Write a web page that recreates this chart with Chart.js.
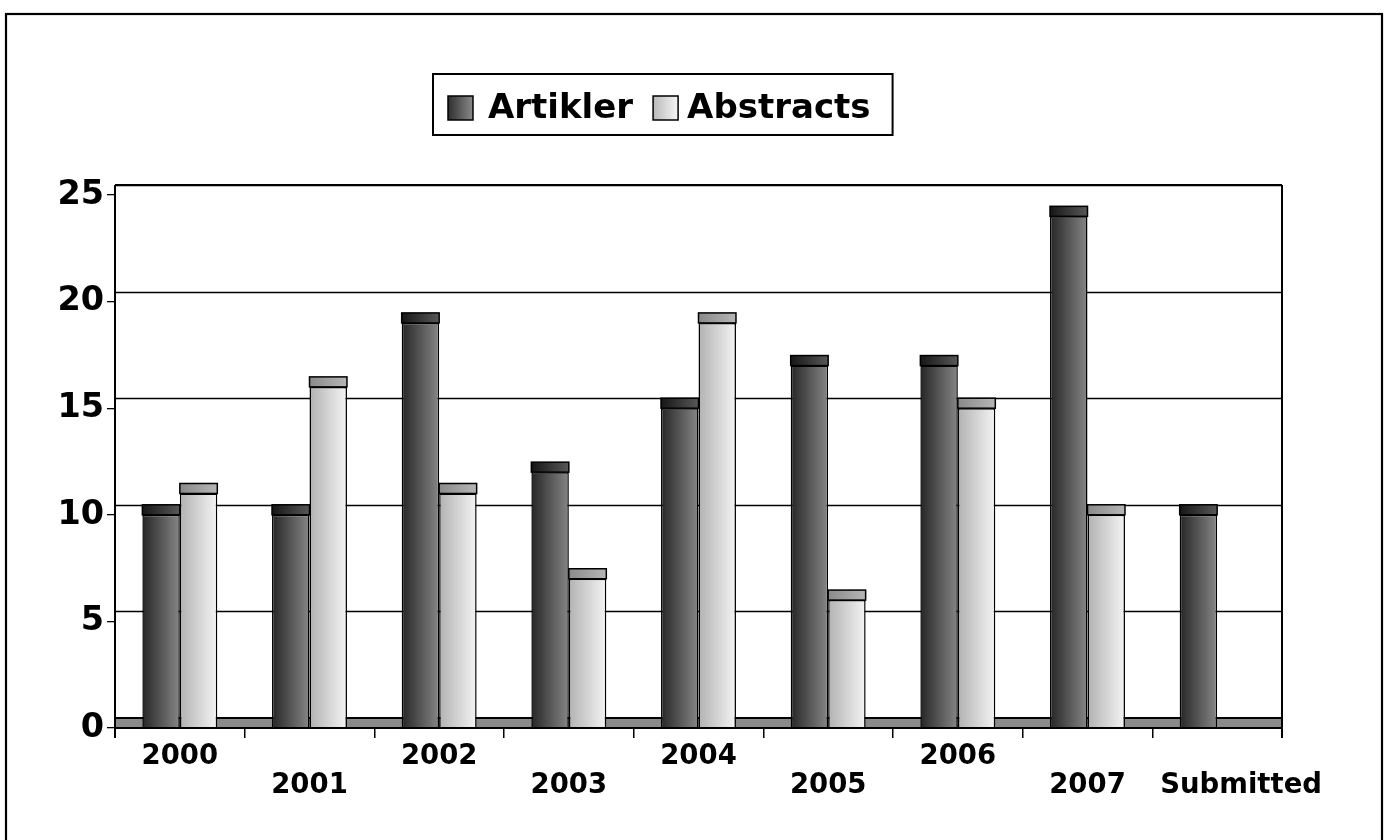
<!DOCTYPE html>
<html>
<head>
<meta charset="utf-8">
<script src="https://cdn.jsdelivr.net/npm/chart.js@4.4.1/dist/chart.umd.min.js"></script>
<style>
  html, body { margin: 0; padding: 0; background: #fff; }
  #wrap { width: 1389px; height: 840px; position: relative; }
</style>
</head>
<body>
<div id="wrap"><canvas id="c"></canvas></div>
<script>
// Publications per year
const categories = ['2000', '2001', '2002', '2003', '2004', '2005', '2006', '2007', 'Submitted'];
const artikler   = [10, 10, 19, 12, 15, 17, 17, 24, 10];
const abstracts  = [11, 16, 11, 7, 19, 6, 15, 10, null];
const seriesNames = ['Artikler', 'Abstracts'];
const yMax = 25;
const yStep = 5;

// Look of the pseudo-3D columns
const DEPTH = 10;            // vertical offset of the back wall / column tops
const CAT_PCT = 0.578;
const FONT = "'DejaVu Sans', Verdana, sans-serif";
const faceStops = [['#262626', '#868686'], ['#b2b2b2', '#f4f4f4']];
const capStops  = [['#161616', '#585858'], ['#8a8a8a', '#b6b6b6']];
const swatchStops = [['#2e2e2e', '#8a8a8a'], ['#b8b8b8', '#f6f6f6']];

function hGrad(c, x0, x1, stops) {
  const g = c.createLinearGradient(x0, 0, x1, 0);
  g.addColorStop(0, stops[0]);
  g.addColorStop(1, stops[1]);
  return g;
}

// Horizontal shading across each column front, from the x scale geometry
function barFace(ctx) {
  const chart = ctx.chart;
  const xs = chart.scales.x;
  const stops = faceStops[ctx.datasetIndex];
  if (!xs || ctx.dataIndex === undefined || !xs.width) return stops[0];
  const group = xs.width / categories.length * CAT_PCT;
  const w = group / chart.data.datasets.length;
  const left = xs.getPixelForValue(ctx.dataIndex) - group / 2 + ctx.datasetIndex * w;
  return hGrad(chart.ctx, left, left + w, stops);
}

const scenePlugin = {
  id: 'scene',
  beforeDraw(chart) {
    const c = chart.ctx;
    c.save();
    c.fillStyle = '#fff';
    c.fillRect(0, 0, chart.width, chart.height);
    c.strokeStyle = '#000';
    c.lineWidth = 2.2;
    c.strokeRect(6, 14, chart.width - 13, chart.height + 40);
    c.restore();
  },
  beforeDatasetsDraw(chart) {
    const c = chart.ctx;
    const ys = chart.scales.y, xs = chart.scales.x;
    const L = xs.left, R = xs.right;
    const base = ys.getPixelForValue(0);
    c.save();
    // back wall gridlines
    c.strokeStyle = '#000';
    c.lineWidth = 1.3;
    for (let v = yStep; v <= yMax; v += yStep) {
      const y = Math.round(ys.getPixelForValue(v) - DEPTH) + 0.5;
      c.beginPath(); c.moveTo(L, y); c.lineTo(R, y); c.stroke();
    }
    // floor
    c.fillStyle = '#8a8a8a';
    c.fillRect(L, base - DEPTH, R - L, DEPTH);
    c.lineWidth = 2;
    c.beginPath(); c.moveTo(L, base - DEPTH); c.lineTo(R, base - DEPTH); c.stroke();
    c.restore();
  },
  afterDatasetsDraw(chart) {
    const c = chart.ctx;
    const ys = chart.scales.y, xs = chart.scales.x;
    const L = xs.left, R = xs.right;
    const base = ys.getPixelForValue(0);
    const top = ys.getPixelForValue(yMax) - DEPTH;
    c.save();
    // column tops
    chart.data.datasets.forEach((ds, di) => {
      const meta = chart.getDatasetMeta(di);
      meta.data.forEach((el, i) => {
        if (ds.data[i] === null || ds.data[i] === undefined) return;
        const { x, y, width } = el.getProps(['x', 'y', 'width'], true);
        const x0 = x - width / 2;
        c.fillStyle = hGrad(c, x0, x0 + width, capStops[di]);
        c.fillRect(x0, y - DEPTH, width, DEPTH);
        c.strokeStyle = '#000';
        c.lineWidth = 1.5;
        c.strokeRect(x0, y - DEPTH, width, DEPTH);
      });
    });
    // axes and wall outline
    c.strokeStyle = '#000';
    c.lineWidth = 2;
    c.beginPath();
    c.moveTo(L, base); c.lineTo(R, base);
    c.moveTo(L, top); c.lineTo(R, top);
    c.moveTo(L, top); c.lineTo(L, base + 10);
    c.moveTo(R, top); c.lineTo(R, base + 10);
    c.stroke();
    c.restore();
  },
  afterDraw(chart) {
    // legend with frame
    const c = chart.ctx;
    c.save();
    c.font = 'bold 34px ' + FONT;
    c.textBaseline = 'alphabetic';
    const boxL = 433, boxT = 74, boxH = 61;
    const sw = 25;
    const gaps = [15, 9];
    let x = 448;
    const items = [];
    seriesNames.forEach((name, i) => {
      const tw = c.measureText(name).width;
      items.push({ name, i, sx: x, tx: x + sw + gaps[i], tw });
      x = x + sw + gaps[i] + tw + 20;
    });
    const boxR = x - 20 + 22;
    c.fillStyle = '#fff';
    c.fillRect(boxL, boxT, boxR - boxL, boxH);
    c.strokeStyle = '#000';
    c.lineWidth = 2;
    c.strokeRect(boxL, boxT, boxR - boxL, boxH);
    items.forEach(it => {
      c.fillStyle = hGrad(c, it.sx, it.sx + sw, swatchStops[it.i]);
      c.fillRect(it.sx, 96, sw, 24);
      c.lineWidth = 1.5;
      c.strokeRect(it.sx, 96, sw, 24);
      c.fillStyle = '#000';
      c.fillText(it.name, it.tx, 118);
    });
    c.restore();
  }
};

Chart.defaults.font.family = FONT;
Chart.defaults.color = '#000';

// Long labels and every second year go on the lower row;
// the long one is nudged right so it clears its neighbour.
const lowerRow = (i) => i % 2 === 1 || categories[i].length > 4;
const tickText = (i) => (categories[i].length > 4 ? '     ' + categories[i] : categories[i]);

new Chart(document.getElementById('c'), {
  type: 'bar',
  data: {
    labels: categories,
    datasets: [
      { label: seriesNames[0], data: artikler, backgroundColor: barFace, borderColor: '#000', borderWidth: 1.5 },
      { label: seriesNames[1], data: abstracts, backgroundColor: barFace, borderColor: '#000', borderWidth: 1.5 }
    ]
  },
  options: {
    responsive: true,
    maintainAspectRatio: false,
    animation: false,
    devicePixelRatio: 1,
    layout: { padding: { top: 195, right: 107, left: 0, bottom: 0 } },
    datasets: { bar: { categoryPercentage: CAT_PCT, barPercentage: 1 } },
    plugins: { legend: { display: false }, tooltip: { enabled: false } },
    scales: {
      x: {
        offset: true,
        border: { display: false },
        grid: { offset: true, drawOnChartArea: false, drawTicks: true, tickLength: 10, color: '#000', lineWidth: 1.5 },
        ticks: {
          autoSkip: false,
          maxRotation: 0,
          padding: 4,
          font: { size: 27.5, weight: 'bold', lineHeight: 29 / 27.5 },
          callback: (v, i) => (lowerRow(i) ? ['', tickText(i)] : tickText(i))
        },
        afterFit: s => { s.height = 112; }
      },
      y: {
        min: 0,
        max: yMax,
        border: { display: false },
        grid: { drawOnChartArea: false, drawTicks: true, tickLength: 8, color: '#000', lineWidth: 1.3 },
        ticks: { stepSize: yStep, padding: 3, font: { size: 33.5, weight: 'bold' } },
        afterFit: s => { s.width = 115; }
      }
    }
  },
  plugins: [scenePlugin]
});
</script>
</body>
</html>
